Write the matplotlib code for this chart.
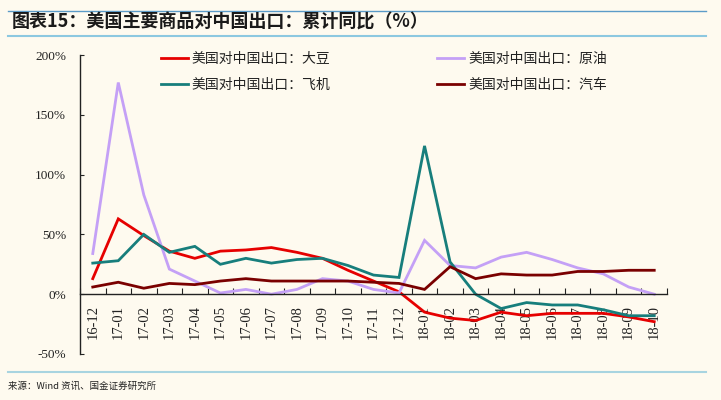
import matplotlib
matplotlib.use("Agg")
import matplotlib.pyplot as plt
from matplotlib.lines import Line2D

plt.rcParams['font.family'] = ['Noto Sans CJK SC', 'DejaVu Sans']
plt.rcParams['axes.unicode_minus'] = False

categories = ["16-12", "17-01", "17-02", "17-03", "17-04", "17-05", "17-06", "17-07",
              "17-08", "17-09", "17-10", "17-11", "17-12", "18-01", "18-02", "18-03",
              "18-04", "18-05", "18-06", "18-07", "18-08", "18-09", "18-10"]

soybean = [13, 63, 49, 36, 30, 36, 37, 39, 35, 30, 20, 11, 2, -15, -20, -22,
           -15, -18, -16, -16, -16, -19, -23]
crude_oil = [34, 177, 83, 21, 11, 1, 4, 0, 4, 13, 11, 4, 1, 45, 24, 22,
             31, 35, 29, 22, 17, 6, 0]
aircraft = [26, 28, 50, 35, 40, 25, 30, 26, 29, 30, 24, 16, 14, 124, 27, 0,
            -12, -7, -9, -9, -13, -18, -18]
autos = [6, 10, 5, 9, 8, 11, 13, 11, 11, 11, 11, 10, 9, 4, 23, 13,
         17, 16, 16, 19, 19, 20, 20]

series_labels = ["美国对中国出口：大豆", "美国对中国出口：原油",
                 "美国对中国出口：飞机", "美国对中国出口：汽车"]
colors = ["#E60000", "#C4A0F6", "#177E7C", "#7A0000"]

y_ticks = [-50, 0, 50, 100, 150, 200]
y_tick_labels = ["-50%", "0%", "50%", "100%", "150%", "200%"]

bg = "#FEFAEF"
fig = plt.figure(figsize=(7.21, 4.0), dpi=100, facecolor=bg)
ax = fig.add_axes([80/721, 46/400, 587/721, 299/400])
ax.set_facecolor(bg)

x = list(range(len(categories)))
lines = []
for vals, lab, c in zip([soybean, crude_oil, aircraft, autos], series_labels, colors):
    ln, = ax.plot(x, vals, color=c, lw=2.0, label=lab, solid_joinstyle='miter')
    lines.append(ln)

ax.set_xlim(-0.5, len(categories) - 0.5)
ax.set_ylim(-50, 200)

for s in ['top', 'right']:
    ax.spines[s].set_visible(False)
ax.spines['bottom'].set_position(('data', 0))
ax.spines['left'].set_color('#222222')
ax.spines['bottom'].set_color('#222222')
ax.spines['left'].set_linewidth(1.0)
ax.spines['bottom'].set_linewidth(1.0)

ax.set_yticks(y_ticks)
ax.set_yticklabels(y_tick_labels, fontfamily='Liberation Serif', fontsize=9.5, color='#222222')
ax.tick_params(axis='y', direction='in', length=3, pad=10, color='#222222')

ax.set_xticks([i + 0.5 for i in range(-1, len(categories))])
ax.set_xticklabels([])
ax.tick_params(axis='x', which='major', direction='in', length=4, color='#222222')
ax.set_xticks(x, minor=True)
ax.set_xticklabels(categories, minor=True, rotation=90, fontfamily='Liberation Serif',
                   fontsize=10.5, color='#222222')
ax.tick_params(axis='x', which='minor', length=0, pad=8)

handles = [lines[0], lines[2], lines[1], lines[3]]
labels = [series_labels[0], series_labels[2], series_labels[1], series_labels[3]]
leg = fig.legend(handles, labels, ncol=2, loc='upper left',
                 bbox_to_anchor=(148/721, 1 - 39/400), frameon=False,
                 fontsize=10, handlelength=1.95, handletextpad=0.3,
                 columnspacing=7.65, labelspacing=0.9)
for t in leg.get_texts():
    t.set_color('#222222')

# decorative lines
fig.add_artist(Line2D([8/721, 706/721], [1 - 10.5/400, 1 - 10.5/400], color='#5B9BC8', lw=1.0))
fig.add_artist(Line2D([8/721, 706/721], [1 - 36/400, 1 - 36/400], color='#8CC8E0', lw=1.5))
fig.add_artist(Line2D([8/721, 706/721], [1 - 372/400, 1 - 372/400], color='#A8D4E0', lw=1.5))

fig.text(12/721, 1 - 22/400, "图表15：美国主要商品对中国出口：累计同比（%）",
         fontsize=13, fontweight='bold', fontstyle='italic', color='#1A1A1A',
         va='center', ha='left')
fig.text(8/721, 1 - 386/400, "来源：Wind 资讯、国金证券研究所", fontsize=6.8,
         color='#222222', va='center', ha='left')

fig.savefig("out.png", dpi=100, facecolor=bg)
